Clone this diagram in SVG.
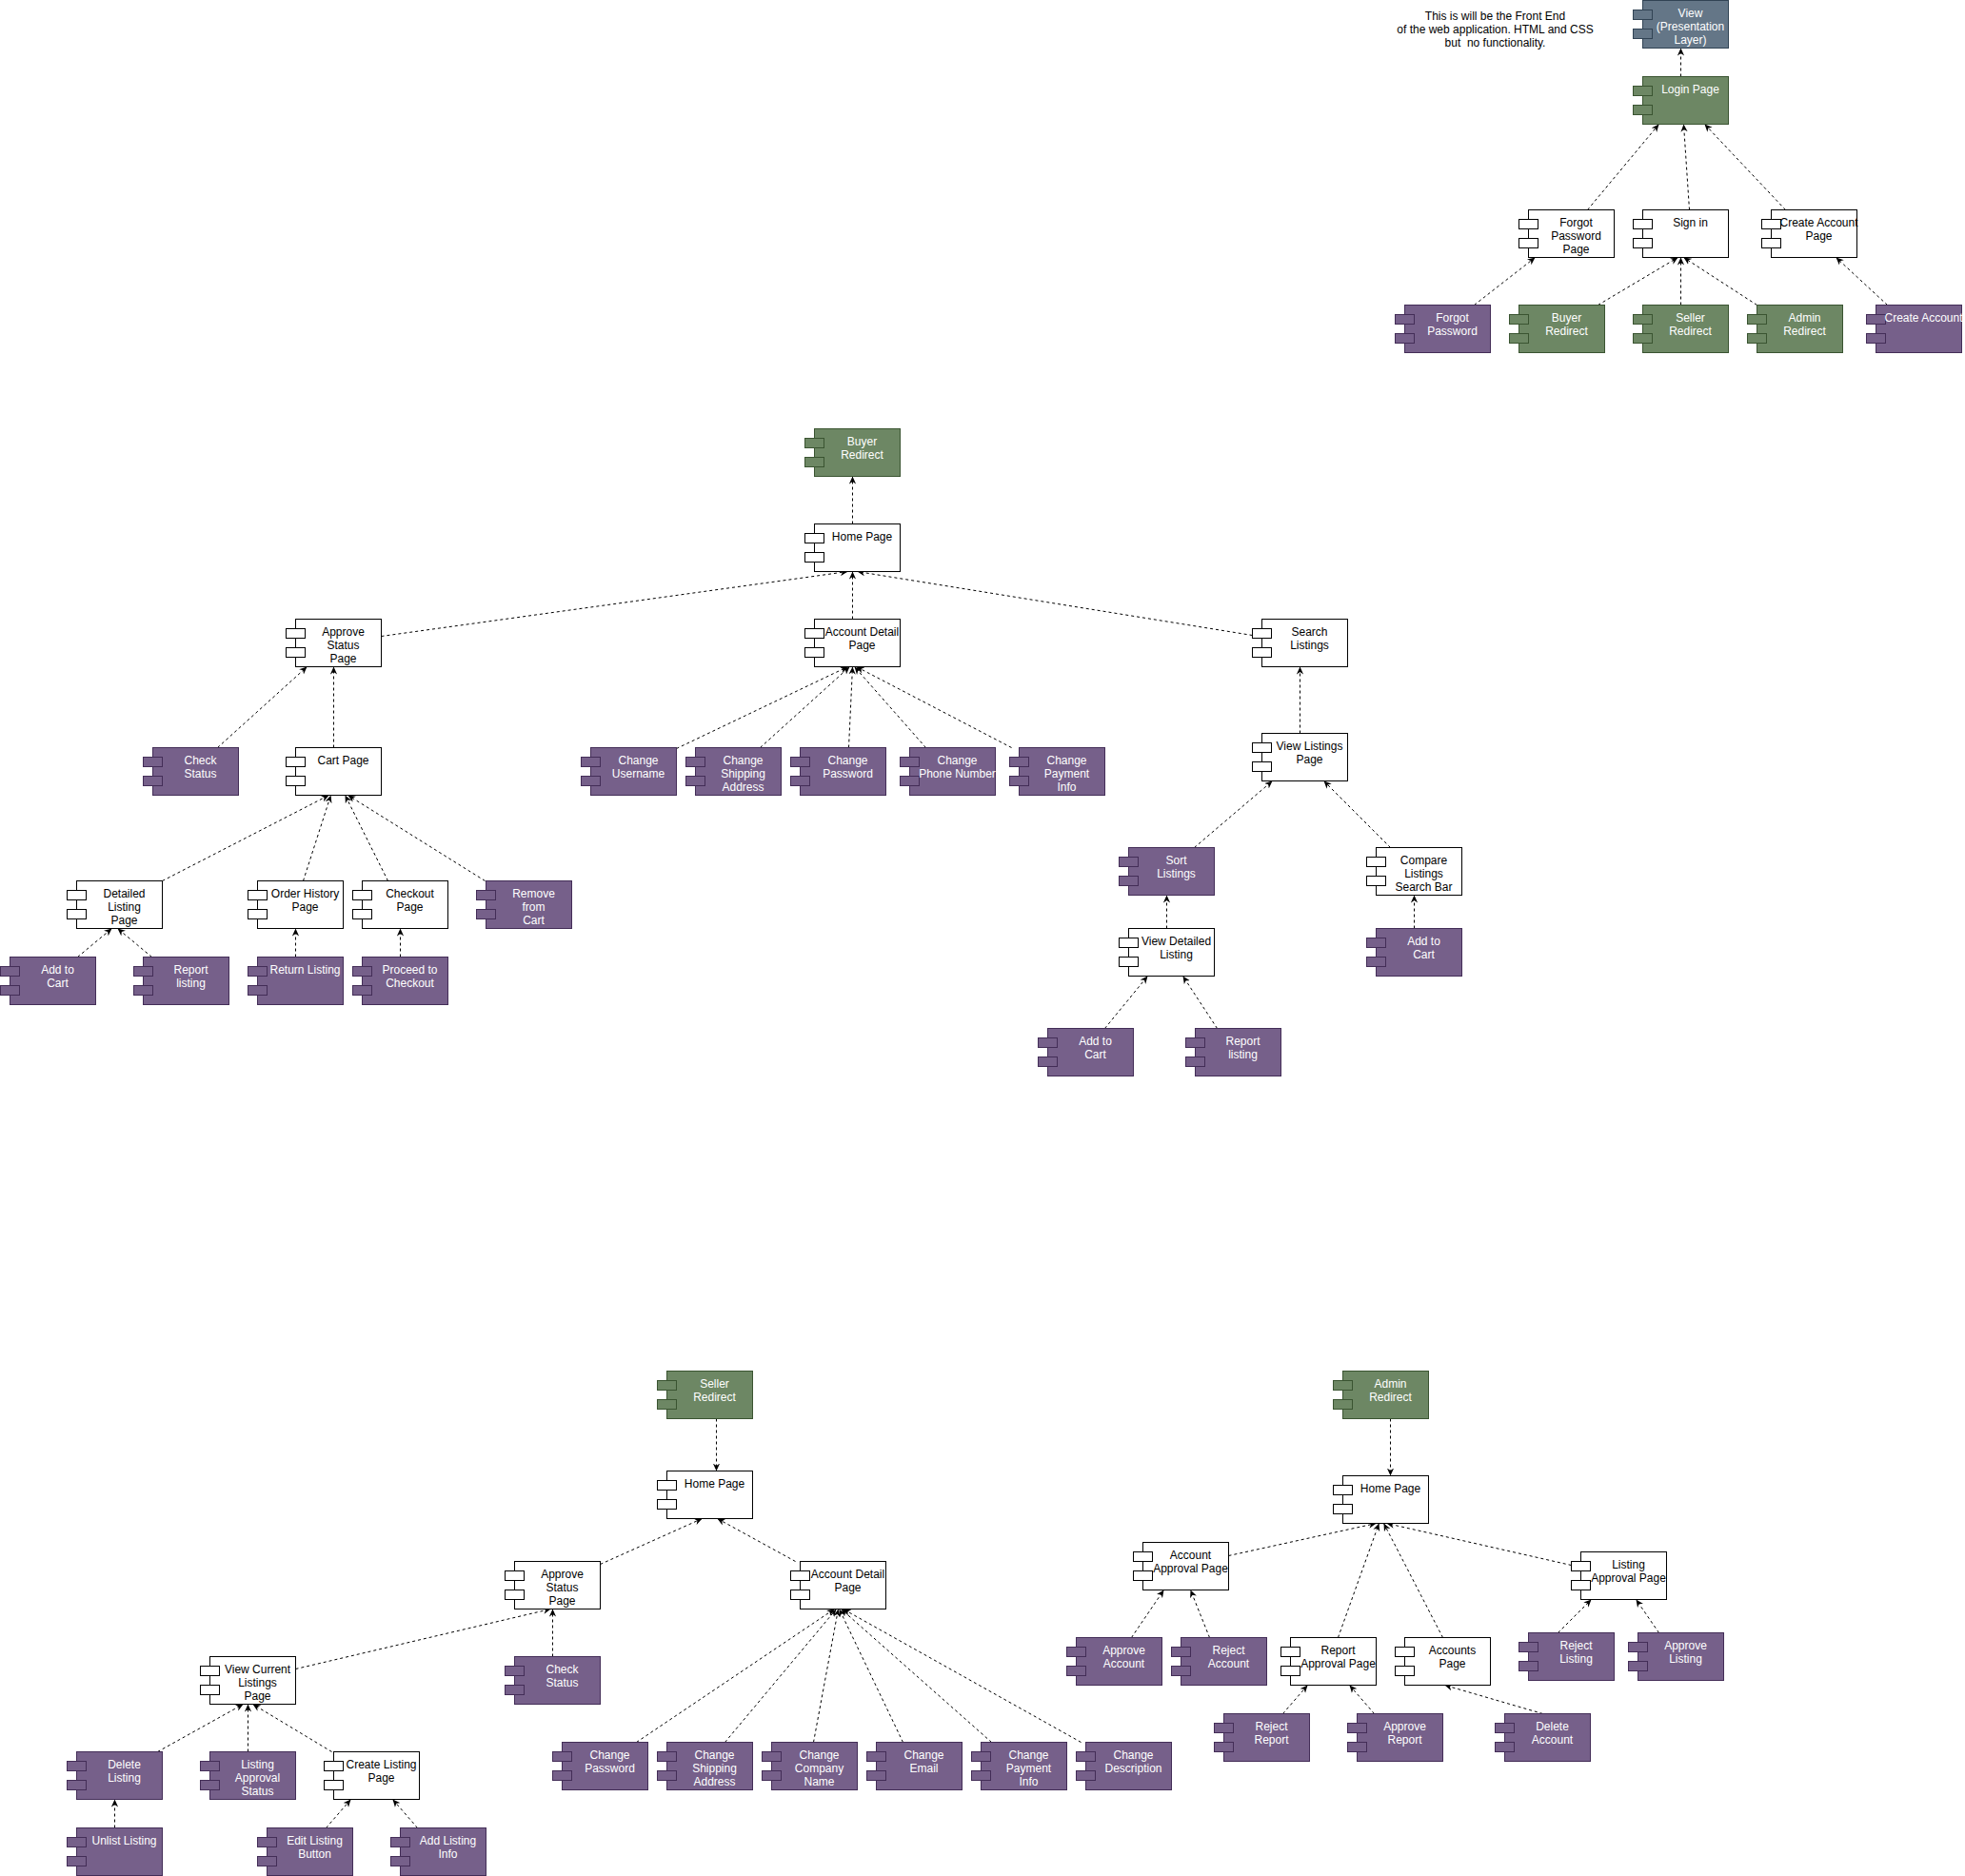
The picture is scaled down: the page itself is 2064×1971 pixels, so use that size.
<svg xmlns="http://www.w3.org/2000/svg" width="2064" height="1971" viewBox="0 0 2064 1971">
<defs>
<style>
text{font-family:"Liberation Sans",Arial,Helvetica,sans-serif;font-size:12px;text-anchor:middle;fill:#fff}
.w rect{fill:#fff;stroke:#000}
.w text{fill:#000}
.p rect{fill:#76608a;stroke:#432d57}
.g rect{fill:#6d8764;stroke:#3a5431}
.s rect{fill:#647687;stroke:#314354}
.note text{fill:#000}
#edges line{stroke:#000;stroke-width:1;stroke-dasharray:3 3;fill:none;marker-end:url(#arr)}
</style>
<marker id="arr" viewBox="0 0 10 10" refX="10" refY="5" markerWidth="8" markerHeight="8" markerUnits="userSpaceOnUse" orient="auto"><path d="M0,0.5 L10,5 L0,9.5 L3,5 Z" fill="#000" stroke="none"/></marker>
</defs>
<rect x="0" y="0" width="2064" height="1971" fill="#fff"/>
<g transform="translate(0.5,0.5)">
<g class="note"><text x="1570" y="20">This is will be the Front End<tspan x="1570" dy="14">of the web application. HTML and CSS</tspan><tspan x="1570" dy="14">but &#160;no functionality.</tspan></text></g>

<g id="edges">
<line x1="1765" y1="80" x2="1765" y2="50"/>
<line x1="1667" y1="220" x2="1742" y2="130"/>
<line x1="1774" y1="220" x2="1768" y2="130"/>
<line x1="1875" y1="220" x2="1790" y2="130"/>
<line x1="1548" y1="320" x2="1612" y2="270"/>
<line x1="1678" y1="320" x2="1762" y2="270"/>
<line x1="1765" y1="320" x2="1765" y2="270"/>
<line x1="1845" y1="320" x2="1768" y2="270"/>
<line x1="1982" y1="320" x2="1928" y2="270"/>
<line x1="895" y1="550" x2="895" y2="500"/>
<line x1="895" y1="650" x2="895" y2="600"/>
<line x1="400" y1="668" x2="890" y2="600"/>
<line x1="1315" y1="667" x2="900" y2="600"/>
<line x1="1365" y1="770" x2="1365" y2="700"/>
<line x1="710" y1="786" x2="890" y2="700"/>
<line x1="798" y1="785" x2="892" y2="700"/>
<line x1="891" y1="785" x2="895" y2="700"/>
<line x1="972" y1="785" x2="897" y2="700"/>
<line x1="1062" y1="785" x2="899" y2="700"/>
<line x1="228" y1="785" x2="322" y2="700"/>
<line x1="350" y1="785" x2="350" y2="700"/>
<line x1="170" y1="925" x2="345" y2="835"/>
<line x1="318" y1="925" x2="347" y2="835"/>
<line x1="407" y1="925" x2="362" y2="835"/>
<line x1="509" y1="925" x2="365" y2="835"/>
<line x1="81" y1="1005" x2="117" y2="975"/>
<line x1="159" y1="1005" x2="123" y2="975"/>
<line x1="310" y1="1005" x2="310" y2="975"/>
<line x1="420" y1="1005" x2="420" y2="975"/>
<line x1="1254" y1="890" x2="1336" y2="820"/>
<line x1="1460" y1="890" x2="1390" y2="820"/>
<line x1="1225" y1="975" x2="1225" y2="940"/>
<line x1="1485" y1="975" x2="1485" y2="940"/>
<line x1="1160" y1="1080" x2="1205" y2="1025"/>
<line x1="1278" y1="1080" x2="1242" y2="1025"/>
<line x1="752" y1="1490" x2="752" y2="1545"/>
<line x1="630" y1="1643" x2="737" y2="1595"/>
<line x1="835" y1="1640" x2="753" y2="1595"/>
<line x1="580" y1="1740" x2="580" y2="1690"/>
<line x1="310" y1="1753" x2="578" y2="1690"/>
<line x1="165" y1="1840" x2="255" y2="1790"/>
<line x1="260" y1="1840" x2="260" y2="1790"/>
<line x1="348" y1="1840" x2="265" y2="1790"/>
<line x1="120" y1="1920" x2="120" y2="1890"/>
<line x1="342" y1="1920" x2="368" y2="1890"/>
<line x1="438" y1="1920" x2="412" y2="1890"/>
<line x1="668" y1="1830" x2="876" y2="1690"/>
<line x1="761" y1="1830" x2="878" y2="1690"/>
<line x1="854" y1="1830" x2="880" y2="1690"/>
<line x1="948" y1="1830" x2="881" y2="1690"/>
<line x1="1041" y1="1830" x2="883" y2="1690"/>
<line x1="1135" y1="1830" x2="885" y2="1690"/>
<line x1="1460" y1="1490" x2="1460" y2="1550"/>
<line x1="1290" y1="1634" x2="1445" y2="1600"/>
<line x1="1405" y1="1720" x2="1448" y2="1600"/>
<line x1="1515" y1="1720" x2="1453" y2="1600"/>
<line x1="1650" y1="1644" x2="1456" y2="1600"/>
<line x1="1188" y1="1720" x2="1222" y2="1670"/>
<line x1="1270" y1="1720" x2="1250" y2="1670"/>
<line x1="1347" y1="1800" x2="1373" y2="1770"/>
<line x1="1443" y1="1800" x2="1417" y2="1770"/>
<line x1="1620" y1="1800" x2="1517" y2="1770"/>
<line x1="1636" y1="1715" x2="1671" y2="1680"/>
<line x1="1742" y1="1715" x2="1718" y2="1680"/>
</g>

<g id="view" class="s"><rect x="1725" y="0" width="90" height="50"/><rect x="1715" y="10" width="20" height="10"/><rect x="1715" y="30" width="20" height="10"/><text x="1775" y="17.5">View<tspan x="1775" dy="14">(Presentation</tspan><tspan x="1775" dy="14">Layer)</tspan></text></g>
<g id="login" class="g"><rect x="1725" y="80" width="90" height="50"/><rect x="1715" y="90" width="20" height="10"/><rect x="1715" y="110" width="20" height="10"/><text x="1775" y="97.5">Login Page</text></g>
<g id="forgotPage" class="w"><rect x="1605" y="220" width="90" height="50"/><rect x="1595" y="230" width="20" height="10"/><rect x="1595" y="250" width="20" height="10"/><text x="1655" y="237.5">Forgot<tspan x="1655" dy="14">Password</tspan><tspan x="1655" dy="14">Page</tspan></text></g>
<g id="signin" class="w"><rect x="1725" y="220" width="90" height="50"/><rect x="1715" y="230" width="20" height="10"/><rect x="1715" y="250" width="20" height="10"/><text x="1775" y="237.5">Sign in</text></g>
<g id="createPage" class="w"><rect x="1860" y="220" width="90" height="50"/><rect x="1850" y="230" width="20" height="10"/><rect x="1850" y="250" width="20" height="10"/><text x="1910" y="237.5">Create Account<tspan x="1910" dy="14">Page</tspan></text></g>
<g id="forgot" class="p"><rect x="1475" y="320" width="90" height="50"/><rect x="1465" y="330" width="20" height="10"/><rect x="1465" y="350" width="20" height="10"/><text x="1525" y="337.5">Forgot<tspan x="1525" dy="14">Password</tspan></text></g>
<g id="buyerR" class="g"><rect x="1595" y="320" width="90" height="50"/><rect x="1585" y="330" width="20" height="10"/><rect x="1585" y="350" width="20" height="10"/><text x="1645" y="337.5">Buyer<tspan x="1645" dy="14">Redirect</tspan></text></g>
<g id="sellerR" class="g"><rect x="1725" y="320" width="90" height="50"/><rect x="1715" y="330" width="20" height="10"/><rect x="1715" y="350" width="20" height="10"/><text x="1775" y="337.5">Seller<tspan x="1775" dy="14">Redirect</tspan></text></g>
<g id="adminR" class="g"><rect x="1845" y="320" width="90" height="50"/><rect x="1835" y="330" width="20" height="10"/><rect x="1835" y="350" width="20" height="10"/><text x="1895" y="337.5">Admin<tspan x="1895" dy="14">Redirect</tspan></text></g>
<g id="createAcc" class="p"><rect x="1970" y="320" width="90" height="50"/><rect x="1960" y="330" width="20" height="10"/><rect x="1960" y="350" width="20" height="10"/><text x="2020" y="337.5">Create Account</text></g>

<g id="bRedirect" class="g"><rect x="855" y="450" width="90" height="50"/><rect x="845" y="460" width="20" height="10"/><rect x="845" y="480" width="20" height="10"/><text x="905" y="467.5">Buyer<tspan x="905" dy="14">Redirect</tspan></text></g>
<g id="bHome" class="w"><rect x="855" y="550" width="90" height="50"/><rect x="845" y="560" width="20" height="10"/><rect x="845" y="580" width="20" height="10"/><text x="905" y="567.5">Home Page</text></g>
<g id="bApprove" class="w"><rect x="310" y="650" width="90" height="50"/><rect x="300" y="660" width="20" height="10"/><rect x="300" y="680" width="20" height="10"/><text x="360" y="667.5">Approve<tspan x="360" dy="14">Status</tspan><tspan x="360" dy="14">Page</tspan></text></g>
<g id="bAccount" class="w"><rect x="855" y="650" width="90" height="50"/><rect x="845" y="660" width="20" height="10"/><rect x="845" y="680" width="20" height="10"/><text x="905" y="667.5">Account Detail<tspan x="905" dy="14">Page</tspan></text></g>
<g id="bSearch" class="w"><rect x="1325" y="650" width="90" height="50"/><rect x="1315" y="660" width="20" height="10"/><rect x="1315" y="680" width="20" height="10"/><text x="1375" y="667.5">Search<tspan x="1375" dy="14">Listings</tspan></text></g>
<g id="bCheck" class="p"><rect x="160" y="785" width="90" height="50"/><rect x="150" y="795" width="20" height="10"/><rect x="150" y="815" width="20" height="10"/><text x="210" y="802.5">Check<tspan x="210" dy="14">Status</tspan></text></g>
<g id="bCart" class="w"><rect x="310" y="785" width="90" height="50"/><rect x="300" y="795" width="20" height="10"/><rect x="300" y="815" width="20" height="10"/><text x="360" y="802.5">Cart Page</text></g>
<g id="bUser" class="p"><rect x="620" y="785" width="90" height="50"/><rect x="610" y="795" width="20" height="10"/><rect x="610" y="815" width="20" height="10"/><text x="670" y="802.5">Change<tspan x="670" dy="14">Username</tspan></text></g>
<g id="bShip" class="p"><rect x="730" y="785" width="90" height="50"/><rect x="720" y="795" width="20" height="10"/><rect x="720" y="815" width="20" height="10"/><text x="780" y="802.5">Change<tspan x="780" dy="14">Shipping</tspan><tspan x="780" dy="14">Address</tspan></text></g>
<g id="bPass" class="p"><rect x="840" y="785" width="90" height="50"/><rect x="830" y="795" width="20" height="10"/><rect x="830" y="815" width="20" height="10"/><text x="890" y="802.5">Change<tspan x="890" dy="14">Password</tspan></text></g>
<g id="bPhone" class="p"><rect x="955" y="785" width="90" height="50"/><rect x="945" y="795" width="20" height="10"/><rect x="945" y="815" width="20" height="10"/><text x="1005" y="802.5">Change<tspan x="1005" dy="14">Phone Number</tspan></text></g>
<g id="bPay" class="p"><rect x="1070" y="785" width="90" height="50"/><rect x="1060" y="795" width="20" height="10"/><rect x="1060" y="815" width="20" height="10"/><text x="1120" y="802.5">Change<tspan x="1120" dy="14">Payment</tspan><tspan x="1120" dy="14">Info</tspan></text></g>
<g id="bViewList" class="w"><rect x="1325" y="770" width="90" height="50"/><rect x="1315" y="780" width="20" height="10"/><rect x="1315" y="800" width="20" height="10"/><text x="1375" y="787.5">View Listings<tspan x="1375" dy="14">Page</tspan></text></g>
<g id="bDetail" class="w"><rect x="80" y="925" width="90" height="50"/><rect x="70" y="935" width="20" height="10"/><rect x="70" y="955" width="20" height="10"/><text x="130" y="942.5">Detailed<tspan x="130" dy="14">Listing</tspan><tspan x="130" dy="14">Page</tspan></text></g>
<g id="bOrder" class="w"><rect x="270" y="925" width="90" height="50"/><rect x="260" y="935" width="20" height="10"/><rect x="260" y="955" width="20" height="10"/><text x="320" y="942.5">Order History<tspan x="320" dy="14">Page</tspan></text></g>
<g id="bCheckout" class="w"><rect x="380" y="925" width="90" height="50"/><rect x="370" y="935" width="20" height="10"/><rect x="370" y="955" width="20" height="10"/><text x="430" y="942.5">Checkout<tspan x="430" dy="14">Page</tspan></text></g>
<g id="bRemove" class="p"><rect x="510" y="925" width="90" height="50"/><rect x="500" y="935" width="20" height="10"/><rect x="500" y="955" width="20" height="10"/><text x="560" y="942.5">Remove<tspan x="560" dy="14">from</tspan><tspan x="560" dy="14">Cart</tspan></text></g>
<g id="bAdd1" class="p"><rect x="10" y="1005" width="90" height="50"/><rect x="0" y="1015" width="20" height="10"/><rect x="0" y="1035" width="20" height="10"/><text x="60" y="1022.5">Add to<tspan x="60" dy="14">Cart</tspan></text></g>
<g id="bReport1" class="p"><rect x="150" y="1005" width="90" height="50"/><rect x="140" y="1015" width="20" height="10"/><rect x="140" y="1035" width="20" height="10"/><text x="200" y="1022.5">Report<tspan x="200" dy="14">listing</tspan></text></g>
<g id="bReturn" class="p"><rect x="270" y="1005" width="90" height="50"/><rect x="260" y="1015" width="20" height="10"/><rect x="260" y="1035" width="20" height="10"/><text x="320" y="1022.5">Return Listing</text></g>
<g id="bProceed" class="p"><rect x="380" y="1005" width="90" height="50"/><rect x="370" y="1015" width="20" height="10"/><rect x="370" y="1035" width="20" height="10"/><text x="430" y="1022.5">Proceed to<tspan x="430" dy="14">Checkout</tspan></text></g>
<g id="bSort" class="p"><rect x="1185" y="890" width="90" height="50"/><rect x="1175" y="900" width="20" height="10"/><rect x="1175" y="920" width="20" height="10"/><text x="1235" y="907.5">Sort<tspan x="1235" dy="14">Listings</tspan></text></g>
<g id="bCompare" class="w"><rect x="1445" y="890" width="90" height="50"/><rect x="1435" y="900" width="20" height="10"/><rect x="1435" y="920" width="20" height="10"/><text x="1495" y="907.5">Compare<tspan x="1495" dy="14">Listings</tspan><tspan x="1495" dy="14">Search Bar</tspan></text></g>
<g id="bViewDet" class="w"><rect x="1185" y="975" width="90" height="50"/><rect x="1175" y="985" width="20" height="10"/><rect x="1175" y="1005" width="20" height="10"/><text x="1235" y="992.5">View Detailed<tspan x="1235" dy="14">Listing</tspan></text></g>
<g id="bAdd3" class="p"><rect x="1445" y="975" width="90" height="50"/><rect x="1435" y="985" width="20" height="10"/><rect x="1435" y="1005" width="20" height="10"/><text x="1495" y="992.5">Add to<tspan x="1495" dy="14">Cart</tspan></text></g>
<g id="bAdd2" class="p"><rect x="1100" y="1080" width="90" height="50"/><rect x="1090" y="1090" width="20" height="10"/><rect x="1090" y="1110" width="20" height="10"/><text x="1150" y="1097.5">Add to<tspan x="1150" dy="14">Cart</tspan></text></g>
<g id="bReport2" class="p"><rect x="1255" y="1080" width="90" height="50"/><rect x="1245" y="1090" width="20" height="10"/><rect x="1245" y="1110" width="20" height="10"/><text x="1305" y="1097.5">Report<tspan x="1305" dy="14">listing</tspan></text></g>

<g id="sRedirect" class="g"><rect x="700" y="1440" width="90" height="50"/><rect x="690" y="1450" width="20" height="10"/><rect x="690" y="1470" width="20" height="10"/><text x="750" y="1457.5">Seller<tspan x="750" dy="14">Redirect</tspan></text></g>
<g id="sHome" class="w"><rect x="700" y="1545" width="90" height="50"/><rect x="690" y="1555" width="20" height="10"/><rect x="690" y="1575" width="20" height="10"/><text x="750" y="1562.5">Home Page</text></g>
<g id="sApprove" class="w"><rect x="540" y="1640" width="90" height="50"/><rect x="530" y="1650" width="20" height="10"/><rect x="530" y="1670" width="20" height="10"/><text x="590" y="1657.5">Approve<tspan x="590" dy="14">Status</tspan><tspan x="590" dy="14">Page</tspan></text></g>
<g id="sAccount" class="w"><rect x="840" y="1640" width="90" height="50"/><rect x="830" y="1650" width="20" height="10"/><rect x="830" y="1670" width="20" height="10"/><text x="890" y="1657.5">Account Detail<tspan x="890" dy="14">Page</tspan></text></g>
<g id="sViewCur" class="w"><rect x="220" y="1740" width="90" height="50"/><rect x="210" y="1750" width="20" height="10"/><rect x="210" y="1770" width="20" height="10"/><text x="270" y="1757.5">View Current<tspan x="270" dy="14">Listings</tspan><tspan x="270" dy="14">Page</tspan></text></g>
<g id="sCheck" class="p"><rect x="540" y="1740" width="90" height="50"/><rect x="530" y="1750" width="20" height="10"/><rect x="530" y="1770" width="20" height="10"/><text x="590" y="1757.5">Check<tspan x="590" dy="14">Status</tspan></text></g>
<g id="sDelete" class="p"><rect x="80" y="1840" width="90" height="50"/><rect x="70" y="1850" width="20" height="10"/><rect x="70" y="1870" width="20" height="10"/><text x="130" y="1857.5">Delete<tspan x="130" dy="14">Listing</tspan></text></g>
<g id="sLas" class="p"><rect x="220" y="1840" width="90" height="50"/><rect x="210" y="1850" width="20" height="10"/><rect x="210" y="1870" width="20" height="10"/><text x="270" y="1857.5">Listing<tspan x="270" dy="14">Approval</tspan><tspan x="270" dy="14">Status</tspan></text></g>
<g id="sCreate" class="w"><rect x="350" y="1840" width="90" height="50"/><rect x="340" y="1850" width="20" height="10"/><rect x="340" y="1870" width="20" height="10"/><text x="400" y="1857.5">Create Listing<tspan x="400" dy="14">Page</tspan></text></g>
<g id="sPass" class="p"><rect x="590" y="1830" width="90" height="50"/><rect x="580" y="1840" width="20" height="10"/><rect x="580" y="1860" width="20" height="10"/><text x="640" y="1847.5">Change<tspan x="640" dy="14">Password</tspan></text></g>
<g id="sShip" class="p"><rect x="700" y="1830" width="90" height="50"/><rect x="690" y="1840" width="20" height="10"/><rect x="690" y="1860" width="20" height="10"/><text x="750" y="1847.5">Change<tspan x="750" dy="14">Shipping</tspan><tspan x="750" dy="14">Address</tspan></text></g>
<g id="sComp" class="p"><rect x="810" y="1830" width="90" height="50"/><rect x="800" y="1840" width="20" height="10"/><rect x="800" y="1860" width="20" height="10"/><text x="860" y="1847.5">Change<tspan x="860" dy="14">Company</tspan><tspan x="860" dy="14">Name</tspan></text></g>
<g id="sEmail" class="p"><rect x="920" y="1830" width="90" height="50"/><rect x="910" y="1840" width="20" height="10"/><rect x="910" y="1860" width="20" height="10"/><text x="970" y="1847.5">Change<tspan x="970" dy="14">Email</tspan></text></g>
<g id="sPay" class="p"><rect x="1030" y="1830" width="90" height="50"/><rect x="1020" y="1840" width="20" height="10"/><rect x="1020" y="1860" width="20" height="10"/><text x="1080" y="1847.5">Change<tspan x="1080" dy="14">Payment</tspan><tspan x="1080" dy="14">Info</tspan></text></g>
<g id="sDesc" class="p"><rect x="1140" y="1830" width="90" height="50"/><rect x="1130" y="1840" width="20" height="10"/><rect x="1130" y="1860" width="20" height="10"/><text x="1190" y="1847.5">Change<tspan x="1190" dy="14">Description</tspan></text></g>
<g id="sUnlist" class="p"><rect x="80" y="1920" width="90" height="50"/><rect x="70" y="1930" width="20" height="10"/><rect x="70" y="1950" width="20" height="10"/><text x="130" y="1937.5">Unlist Listing</text></g>
<g id="sEdit" class="p"><rect x="280" y="1920" width="90" height="50"/><rect x="270" y="1930" width="20" height="10"/><rect x="270" y="1950" width="20" height="10"/><text x="330" y="1937.5">Edit Listing<tspan x="330" dy="14">Button</tspan></text></g>
<g id="sAddInfo" class="p"><rect x="420" y="1920" width="90" height="50"/><rect x="410" y="1930" width="20" height="10"/><rect x="410" y="1950" width="20" height="10"/><text x="470" y="1937.5">Add Listing<tspan x="470" dy="14">Info</tspan></text></g>

<g id="aRedirect" class="g"><rect x="1410" y="1440" width="90" height="50"/><rect x="1400" y="1450" width="20" height="10"/><rect x="1400" y="1470" width="20" height="10"/><text x="1460" y="1457.5">Admin<tspan x="1460" dy="14">Redirect</tspan></text></g>
<g id="aHome" class="w"><rect x="1410" y="1550" width="90" height="50"/><rect x="1400" y="1560" width="20" height="10"/><rect x="1400" y="1580" width="20" height="10"/><text x="1460" y="1567.5">Home Page</text></g>
<g id="aAccApproval" class="w"><rect x="1200" y="1620" width="90" height="50"/><rect x="1190" y="1630" width="20" height="10"/><rect x="1190" y="1650" width="20" height="10"/><text x="1250" y="1637.5">Account<tspan x="1250" dy="14">Approval Page</tspan></text></g>
<g id="aListApproval" class="w"><rect x="1660" y="1630" width="90" height="50"/><rect x="1650" y="1640" width="20" height="10"/><rect x="1650" y="1660" width="20" height="10"/><text x="1710" y="1647.5">Listing<tspan x="1710" dy="14">Approval Page</tspan></text></g>
<g id="aRepApproval" class="w"><rect x="1355" y="1720" width="90" height="50"/><rect x="1345" y="1730" width="20" height="10"/><rect x="1345" y="1750" width="20" height="10"/><text x="1405" y="1737.5">Report<tspan x="1405" dy="14">Approval Page</tspan></text></g>
<g id="aAccounts" class="w"><rect x="1475" y="1720" width="90" height="50"/><rect x="1465" y="1730" width="20" height="10"/><rect x="1465" y="1750" width="20" height="10"/><text x="1525" y="1737.5">Accounts<tspan x="1525" dy="14">Page</tspan></text></g>
<g id="aApproveAcc" class="p"><rect x="1130" y="1720" width="90" height="50"/><rect x="1120" y="1730" width="20" height="10"/><rect x="1120" y="1750" width="20" height="10"/><text x="1180" y="1737.5">Approve<tspan x="1180" dy="14">Account</tspan></text></g>
<g id="aRejectAcc" class="p"><rect x="1240" y="1720" width="90" height="50"/><rect x="1230" y="1730" width="20" height="10"/><rect x="1230" y="1750" width="20" height="10"/><text x="1290" y="1737.5">Reject<tspan x="1290" dy="14">Account</tspan></text></g>
<g id="aRejectList" class="p"><rect x="1605" y="1715" width="90" height="50"/><rect x="1595" y="1725" width="20" height="10"/><rect x="1595" y="1745" width="20" height="10"/><text x="1655" y="1732.5">Reject<tspan x="1655" dy="14">Listing</tspan></text></g>
<g id="aApproveList" class="p"><rect x="1720" y="1715" width="90" height="50"/><rect x="1710" y="1725" width="20" height="10"/><rect x="1710" y="1745" width="20" height="10"/><text x="1770" y="1732.5">Approve<tspan x="1770" dy="14">Listing</tspan></text></g>
<g id="aRejectRep" class="p"><rect x="1285" y="1800" width="90" height="50"/><rect x="1275" y="1810" width="20" height="10"/><rect x="1275" y="1830" width="20" height="10"/><text x="1335" y="1817.5">Reject<tspan x="1335" dy="14">Report</tspan></text></g>
<g id="aApproveRep" class="p"><rect x="1425" y="1800" width="90" height="50"/><rect x="1415" y="1810" width="20" height="10"/><rect x="1415" y="1830" width="20" height="10"/><text x="1475" y="1817.5">Approve<tspan x="1475" dy="14">Report</tspan></text></g>
<g id="aDeleteAcc" class="p"><rect x="1580" y="1800" width="90" height="50"/><rect x="1570" y="1810" width="20" height="10"/><rect x="1570" y="1830" width="20" height="10"/><text x="1630" y="1817.5">Delete<tspan x="1630" dy="14">Account</tspan></text></g>
</g>
</svg>
